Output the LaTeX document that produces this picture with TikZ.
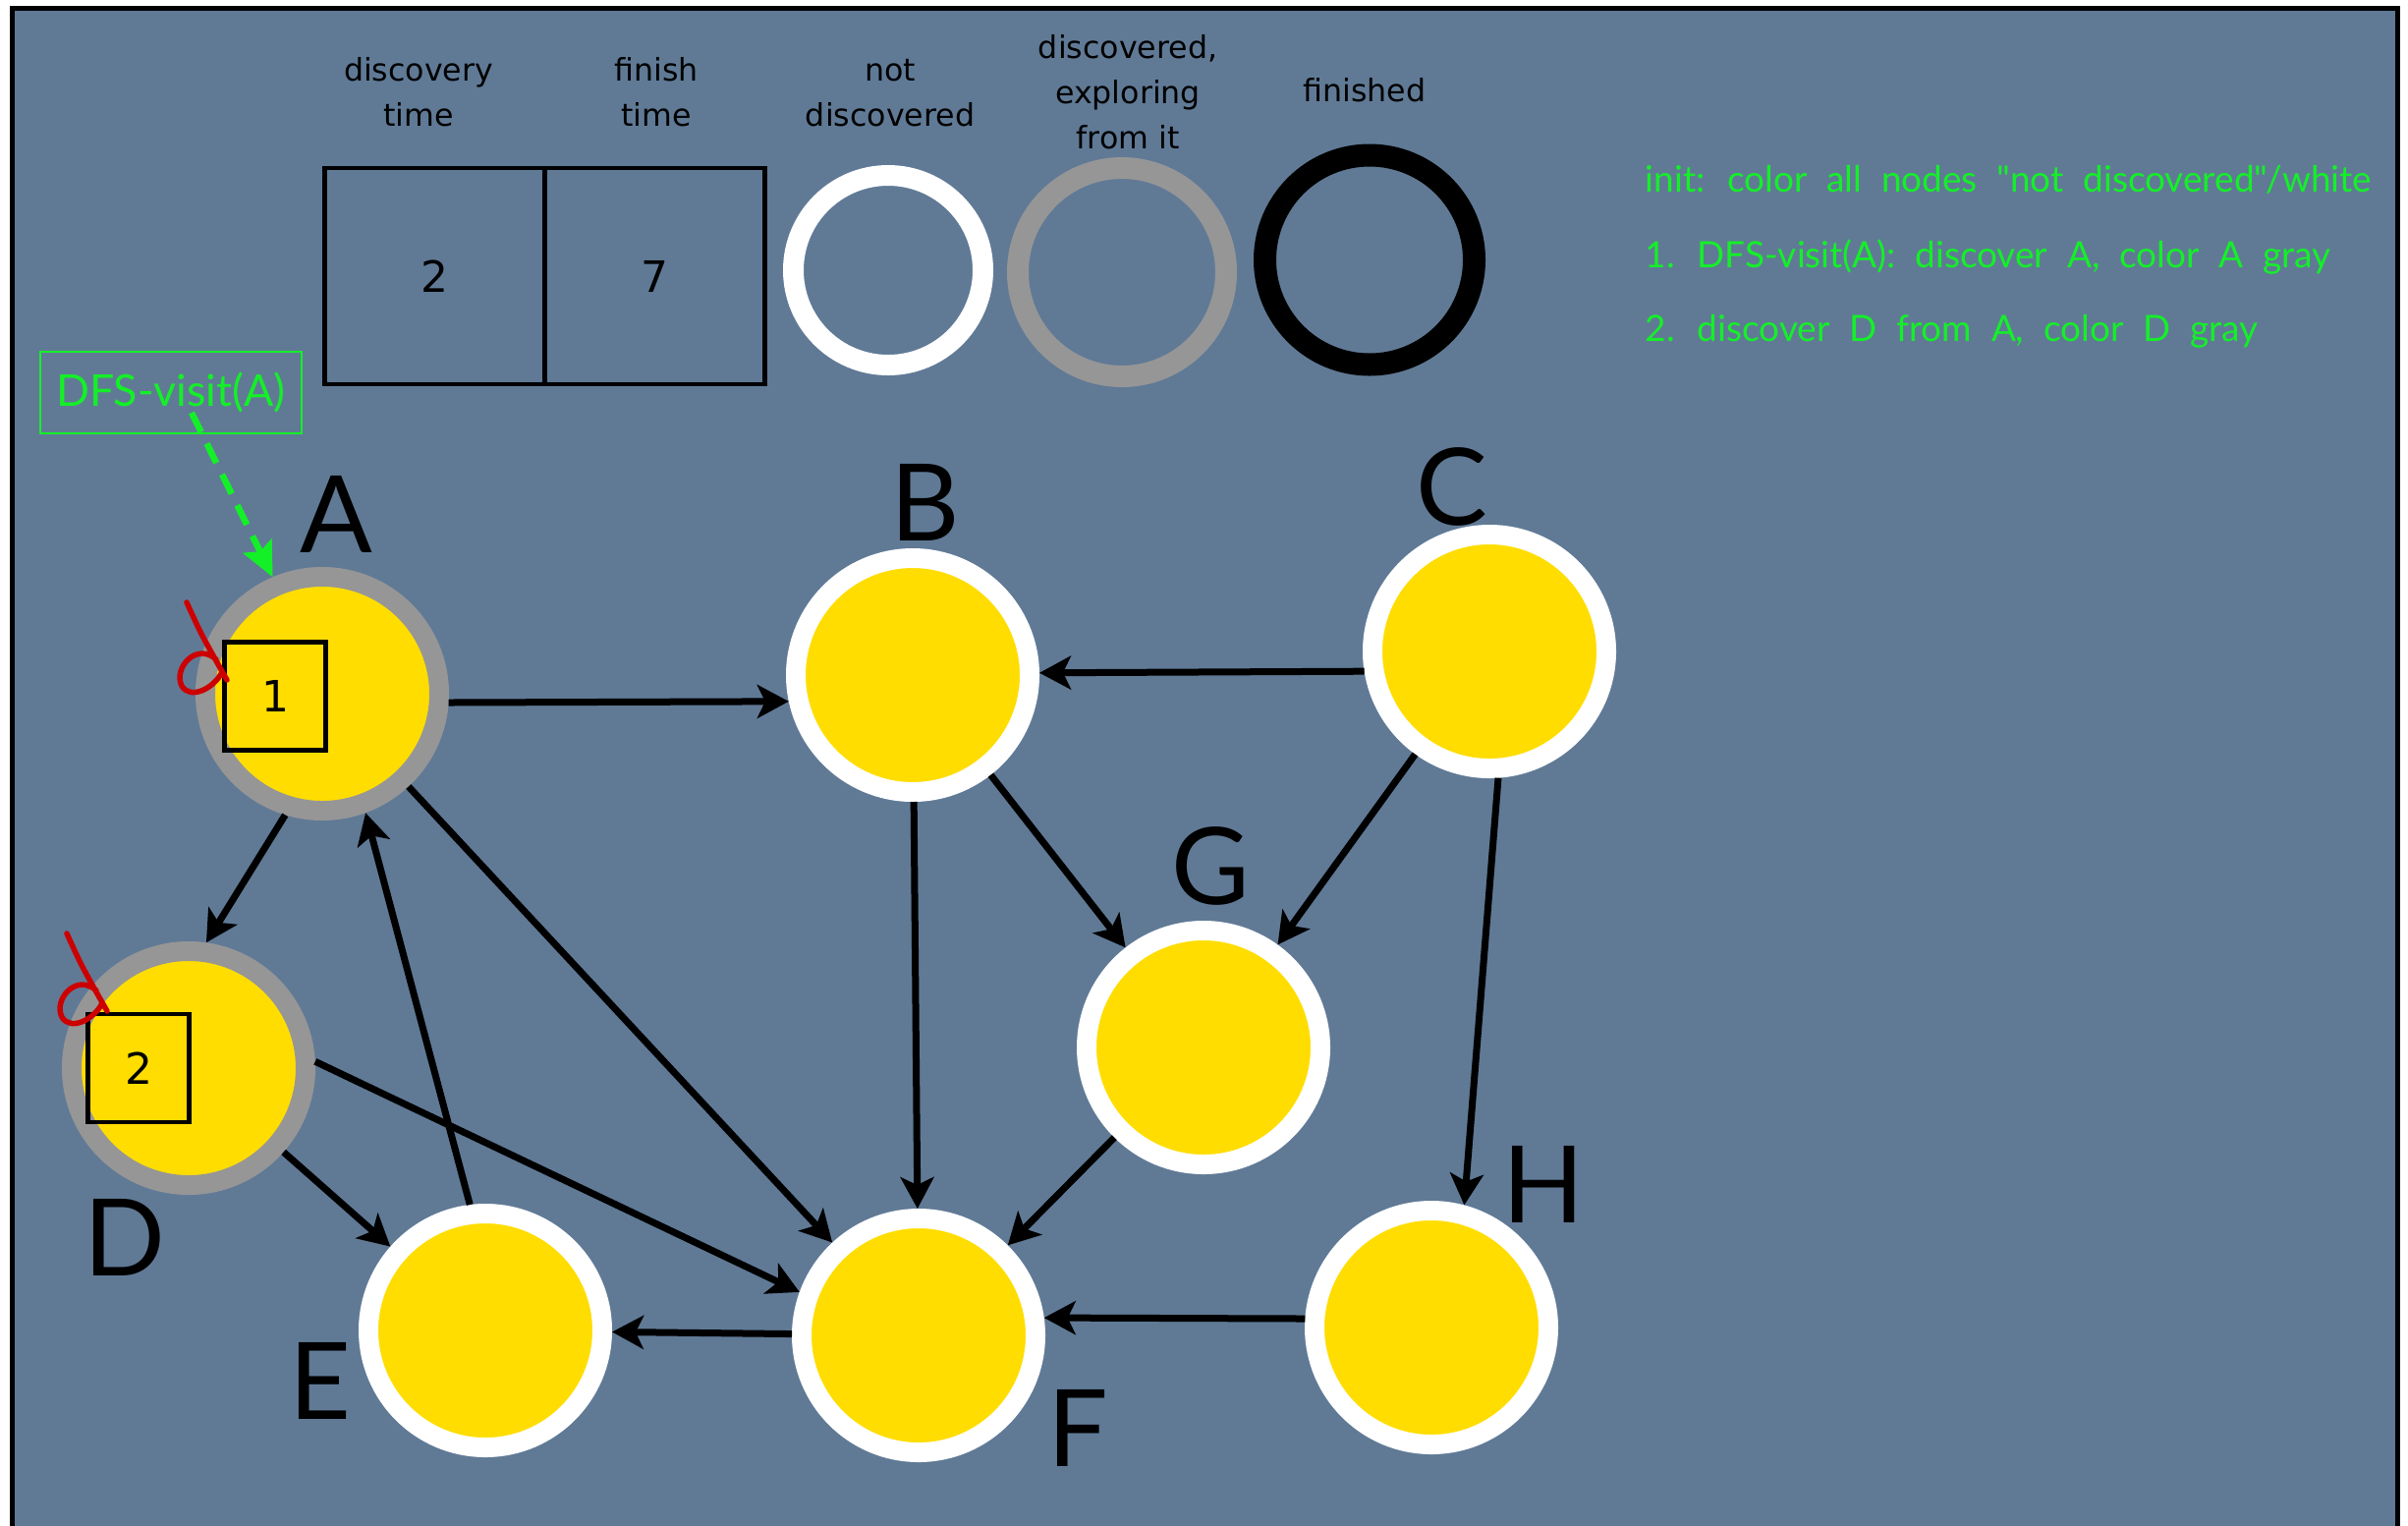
\documentclass[tikz,border=0pt]{standalone}
\usepackage{fontspec}
\usetikzlibrary{arrows.meta}

\newfontfamily\gillfont{Lato}
\newfontfamily\notefont{Lato}[WordSpace=2.1]
\newfontfamily\lucfont{DejaVu Sans}

\definecolor{slate}{RGB}{96,122,150}
\definecolor{sun}{RGB}{255,221,0}
\definecolor{ring}{RGB}{150,150,150}
\definecolor{hint}{RGB}{20,240,40}
\definecolor{pen}{RGB}{204,0,0}

\begin{document}
\begin{tikzpicture}[
    vertex/.style={circle,fill=sun,draw=white,line width=0.2cm,minimum size=2.38cm,inner sep=0pt},
    grayed/.style={draw=ring},
    letter/.style={font=\gillfont\fontsize{31}{31}\selectfont,inner sep=0pt},
    link/.style={line width=0.07cm,-{Stealth[length=0.32cm,width=0.34cm,inset=0.08cm]}},
    stamp/.style={draw,line width=0.045cm,minimum width=1.03cm,minimum height=1.1cm,inner sep=0pt,
                  font=\lucfont\fontsize{12.5}{12.5}\selectfont},
    slot/.style={draw,line width=0.045cm,minimum width=2.24cm,minimum height=2.2cm,inner sep=0pt,
                 font=\lucfont\fontsize{12.5}{12.5}\selectfont},
    legendring/.style={circle,line width=0.21cm,inner sep=0pt},
    caption/.style={font=\lucfont\fontsize{9}{13}\selectfont,align=center,inner sep=0pt,anchor=base},
    note/.style={text=hint,font=\notefont\fontsize{10.5}{12}\selectfont,anchor=base west,inner sep=0pt},
    dmark/.pic={
        \draw[pen,line width=0.055cm,line cap=round]
            (-0.42,0.80) .. controls (-0.27,0.47) .. (-0.01,0.01)
            (-0.12,0.22) .. controls (-0.32,0.40) and (-0.56,0.13) .. (-0.47,-0.05)
                         .. controls (-0.38,-0.20) and (-0.14,-0.07) .. (-0.06,0.09);
    }
]
\useasboundingbox (0,0) rectangle (24.51,-15.52);
\fill[white] (0,0) rectangle (24.51,-15.52);
\draw[fill=slate,line width=0.05cm] (0.125,-0.085) rectangle (24.40,-15.9);

% legend
\node[slot] (dtime) at (4.425,-2.81) {2};
\node[slot] (ftime) at (6.665,-2.81) {7};
\node[legendring,draw=white,minimum size=1.93cm] (undisc) at (9.04,-2.75) {};
\node[legendring,draw=ring,line width=0.22cm,minimum size=2.12cm] (explore) at (11.42,-2.77) {};
\node[legendring,draw=black,line width=0.23cm,minimum size=2.13cm] (finish) at (13.94,-2.645) {};

\node[caption] (cap1) at (4.26,-1.28)  {discovery\\time};
\node[caption] (cap2) at (6.68,-1.28)  {finish\\time};
\node[caption] (cap3) at (9.06,-1.28)  {not\\discovered};
\node[caption] (cap4) at (11.48,-1.51) {discovered,\\exploring\\from it};
\node[caption] (cap5) at (13.89,-1.03) {finished};

% steps
\node[note] (step0) at (16.74,-1.95) {init: color all nodes "not discovered"/white};
\node[note] (step1) at (16.74,-2.72) {1. DFS-visit(A): discover A, color A gray};
\node[note] (step2) at (16.74,-3.47) {2. discover D from A, color D gray};

% graph
\node[vertex,grayed] (A) at (3.28,-7.06)  {};
\node[vertex]        (B) at (9.29,-6.87)  {};
\node[vertex]        (C) at (15.16,-6.63) {};
\node[vertex,grayed] (D) at (1.92,-10.87) {};
\node[vertex]        (E) at (4.94,-13.54) {};
\node[vertex]        (F) at (9.35,-13.59) {};
\node[vertex]        (G) at (12.25,-10.66) {};
\node[vertex]        (H) at (14.57,-13.51) {};

\node[letter] (lA) at (3.42,-5.23)  {A};
\node[letter] (lB) at (9.42,-5.11)  {B};
\node[letter] (lC) at (14.78,-4.95) {C};
\node[letter] (lD) at (1.27,-12.59) {D};
\node[letter] (lE) at (3.26,-14.05) {E};
\node[letter] (lF) at (10.97,-14.53) {F};
\node[letter] (lG) at (12.32,-8.81) {G};
\node[letter] (lH) at (15.71,-12.05) {H};

\draw[link] (A.-4) -- (B.192);
\draw[link] (A.-107) -- (D.82);
\draw[link] (A) -- (F);
\draw[link] (E.97) -- (A.-70);
\draw[link] (D) -- (E);
\draw[link] (D.3) -- (F.160);
\draw[link] (B) -- (F);
\draw[link] (B) -- (G);
\draw[link] (C.189) -- (B.1);
\draw[link] (C) -- (G);
\draw[link] (C.-86) -- (H.75);
\draw[link] (G) -- (F);
\draw[link] (H.176) -- (F.8);
\draw[link] (F) -- (E);

% discovery stamps
\node[stamp] (dA) at (2.80,-7.085) {1};
\node[stamp] (dD) at (1.41,-10.87) {2};
\pic at (2.32,-6.93) {dmark};
\pic at (1.10,-10.30) {dmark};

% current call
\node[draw=hint,line width=0.017cm,text=hint,minimum width=2.66cm,minimum height=0.83cm,inner sep=0pt,
      font=\gillfont\fontsize{12.7}{13}\selectfont] (call) at (1.74,-3.995) {DFS-visit(A)};
\coordinate (callfoot) at (1.95,-4.20);
\draw[hint,line width=0.065cm,dash pattern=on 0.22cm off 0.13cm,
      -{Stealth[length=0.35cm,width=0.32cm,inset=0.06cm]}] (callfoot) -- (A.113);
\end{tikzpicture}
\end{document}
